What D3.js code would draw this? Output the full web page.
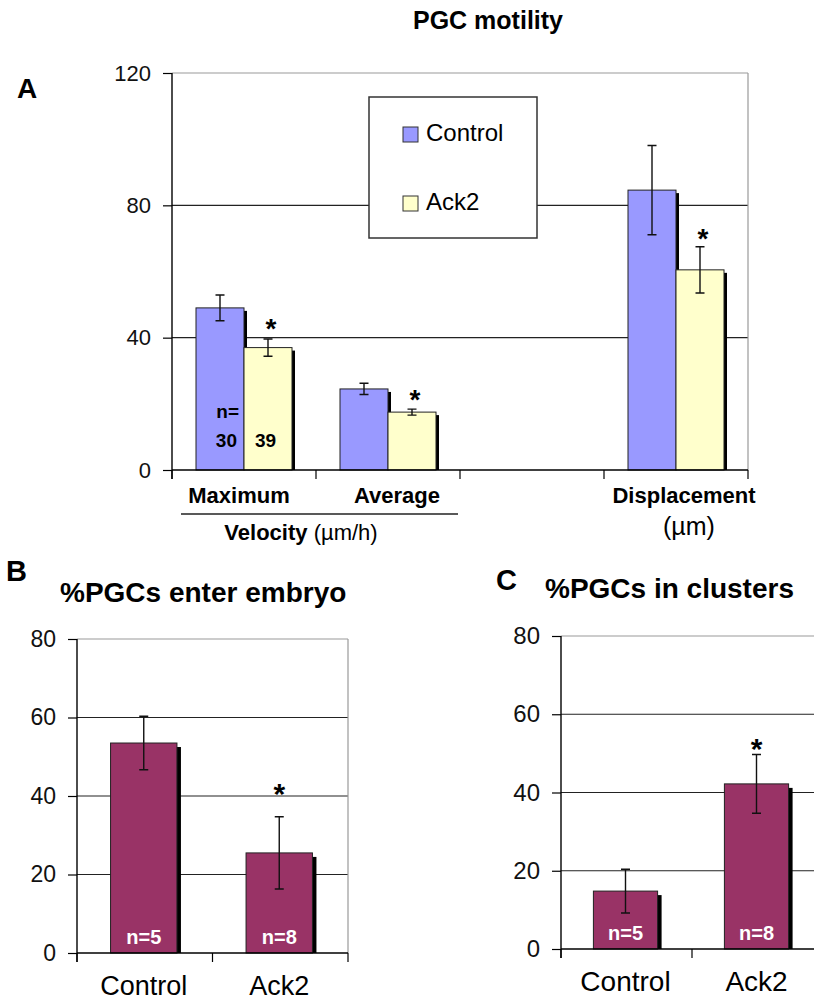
<!DOCTYPE html>
<html>
<head>
<meta charset="utf-8">
<script src="https://cdn.jsdelivr.net/npm/d3@7"></script>
<style>
  body { margin: 0; background: #fff; }
  svg { display: block; font-family: "Liberation Sans", Arial, sans-serif; }
</style>
</head>
<body>
<svg id="chart" width="814" height="1002"></svg>
<script>
// Panel A data
const aCategories = ["Maximum", "Average", "gap", "Displacement"];
const aSeries = ["Control", "Ack2"];
const aControl = [49, 24.5, null, 84.6];
const aControlErr = [3.9, 1.7, null, 13.5];
const aAck2 = [37, 17.5, null, 60.5];
const aAck2Err = [2.6, 0.9, null, 7];
const aStarLevel = [44.4, 22.7, null, 71.6];
const aTicks = [0, 40, 80, 120];

// Panel B data
const bCategories = ["Control", "Ack2"];
const bValues = [53.5, 25.5];
const bErr = [6.8, 9.2];
const bN = ["n=5", "n=8"];
const bStarLevel = [null, 42];

// Panel C data
const cCategories = ["Control", "Ack2"];
const cValues = [14.8, 42.2];
const cErr = [5.6, 7.5];
const cN = ["n=5", "n=8"];
const cStarLevel = [null, 52.5];

const bcTicks = [0, 20, 40, 60, 80];

const colors = { Control: "#9999ff", Ack2: "#ffffcc" };
const purple = "#993366";

const svg = d3.select("#chart");

function yAxis(g, y, x0, fontSize) {
    const ax = g.append("g")
        .attr("transform", `translate(${x0},0)`)
        .call(d3.axisLeft(y).tickValues(y.ticksUsed).tickSize(9).tickPadding(12));
    ax.select(".domain").remove();
    ax.selectAll(".tick line").attr("stroke", "#000").attr("stroke-width", 1.2);
    ax.selectAll(".tick text")
        .attr("font-size", fontSize)
        .attr("fill", "#111")
        .attr("font-family", "Liberation Sans, Arial, sans-serif");
}

function frame(g, x0, x1, y, withRight) {
    const [yBottom, yTop] = y.range();
    // grid lines (skip 0 and top)
    g.selectAll(".grid")
        .data(y.ticksUsed.filter(t => t !== 0 && t !== y.domain()[1]))
        .enter().append("line")
        .attr("x1", x0).attr("x2", x1)
        .attr("y1", d => y(d)).attr("y2", d => y(d))
        .attr("stroke", "#222").attr("stroke-width", 1.2);
    // top border
    g.append("line").attr("x1", x0).attr("x2", x1).attr("y1", yTop).attr("y2", yTop)
        .attr("stroke", "#999").attr("stroke-width", 1.2);
    if (withRight) {
        g.append("line").attr("x1", x1).attr("x2", x1).attr("y1", yTop).attr("y2", yBottom)
            .attr("stroke", "#999").attr("stroke-width", 1.2);
    }
}

function axes(g, x0, x1, y, boundaries) {
    const yBottom = y(0), yTop = y.range()[1];
    g.append("line").attr("x1", x0).attr("x2", x0).attr("y1", yTop).attr("y2", yBottom + 9)
        .attr("stroke", "#000").attr("stroke-width", 1.4);
    g.append("line").attr("x1", x0).attr("x2", x1).attr("y1", yBottom).attr("y2", yBottom)
        .attr("stroke", "#000").attr("stroke-width", 1.4);
    g.selectAll(".xtick").data(boundaries).enter().append("line")
        .attr("x1", d => d).attr("x2", d => d)
        .attr("y1", yBottom).attr("y2", yBottom + 9)
        .attr("stroke", "#000").attr("stroke-width", 1.2);
}

function bar(g, x, w, y, v, fill, sh) {
    g.append("rect")
        .attr("x", x + sh).attr("y", y(v) + sh)
        .attr("width", w).attr("height", y(0) - y(v) - sh)
        .attr("fill", "#000");
    g.append("rect")
        .attr("x", x).attr("y", y(v))
        .attr("width", w).attr("height", y(0) - y(v))
        .attr("fill", fill).attr("stroke", "#222").attr("stroke-width", 1);
}

function errBar(g, cx, y, v, e, cap) {
    const path = d3.path();
    path.moveTo(cx, y(v + e)); path.lineTo(cx, y(v - e));
    path.moveTo(cx - cap, y(v + e)); path.lineTo(cx + cap, y(v + e));
    path.moveTo(cx - cap, y(v - e)); path.lineTo(cx + cap, y(v - e));
    g.append("path").attr("d", path.toString()).attr("stroke", "#111").attr("stroke-width", 1.4).attr("fill", "none");
}

// star centred (roughly) on cy
function star(g, cx, cy, size) {
    g.append("text").attr("x", cx).attr("y", cy + size * 0.52)
        .attr("text-anchor", "middle").attr("font-size", size).attr("font-weight", "bold")
        .text("*");
}

// ---------- Panel A ----------
const gA = svg.append("g");
const yA = d3.scaleLinear().domain([0, 120]).range([470, 73]);
yA.ticksUsed = aTicks;
const xA = d3.scaleBand().domain(aCategories).range([172, 748]).padding(0);
const xSub = d3.scaleBand().domain(aSeries).range([0, xA.bandwidth()]).paddingInner(0).paddingOuter(0.5);

frame(gA, 172, 748, yA, true);

aCategories.forEach((c, i) => {
    if (aControl[i] == null) return;
    const xc = xA(c) + xSub("Control"), xk = xA(c) + xSub("Ack2"), w = xSub.bandwidth();
    bar(gA, xc, w, yA, aControl[i], colors.Control, 3);
    bar(gA, xk, w, yA, aAck2[i], colors.Ack2, 3);
    errBar(gA, xc + w / 2, yA, aControl[i], aControlErr[i], 4.5);
    errBar(gA, xk + w / 2, yA, aAck2[i], aAck2Err[i], 4.5);
    star(gA, xk + w / 2 + 3, yA(aStarLevel[i]), 28);
});

axes(gA, 172, 748, yA, aCategories.map(c => xA(c)).concat([748]));
yAxis(gA, yA, 172, 22);

// n labels in the first group
{
    const xc = xA("Maximum") + xSub("Control"), xk = xA("Maximum") + xSub("Ack2"), w = xSub.bandwidth();
    const t = gA.append("g").attr("font-size", 19).attr("font-weight", "bold").attr("fill", "#000");
    t.append("text").attr("x", xc + w - 5).attr("y", yA(15.6)).attr("text-anchor", "end").text("n=");
    t.append("text").attr("x", xc + w - 7).attr("y", yA(7)).attr("text-anchor", "end").text("30");
    t.append("text").attr("x", xk + 11).attr("y", yA(7)).attr("text-anchor", "start").text("39");
}

// legend
{
    const lg = gA.append("g");
    lg.append("rect").attr("x", 369).attr("y", 97).attr("width", 168).attr("height", 141)
        .attr("fill", "#fff").attr("stroke", "#333").attr("stroke-width", 1.5);
    aSeries.forEach((s, i) => {
        const yy = 127 + i * 69;
        lg.append("rect").attr("x", 403).attr("y", yy).attr("width", 15).attr("height", 15)
            .attr("fill", colors[s]).attr("stroke", "#333").attr("stroke-width", 1);
        lg.append("text").attr("x", 426).attr("y", yy + 14).attr("font-size", 24).text(s);
    });
}

// category labels
gA.append("text").attr("x", 488).attr("y", 29).attr("text-anchor", "middle")
    .attr("font-size", 25).attr("font-weight", "bold").text("PGC motility");
gA.append("text").attr("x", 17).attr("y", 98).attr("font-size", 28).attr("font-weight", "bold").text("A");
const catLabels = gA.append("g").attr("font-size", 22).attr("font-weight", "bold").attr("text-anchor", "middle");
catLabels.append("text").attr("x", xA("Maximum") + xA.bandwidth() / 2 - 5).attr("y", 503).text("Maximum");
catLabels.append("text").attr("x", xA("Average") + xA.bandwidth() / 2 + 9).attr("y", 503).text("Average");
catLabels.append("text").attr("x", xA("Displacement") + xA.bandwidth() / 2 + 8).attr("y", 503).text("Displacement");
gA.append("line").attr("x1", 181).attr("x2", 458).attr("y1", 514).attr("y2", 514)
    .attr("stroke", "#222").attr("stroke-width", 1.4);
const vel = gA.append("text").attr("x", 301).attr("y", 540).attr("text-anchor", "middle").attr("font-size", 22);
vel.append("tspan").attr("font-weight", "bold").text("Velocity");
vel.append("tspan").text(" (\u00b5m/h)");
gA.append("text").attr("x", 689).attr("y", 535).attr("text-anchor", "middle").attr("font-size", 25).text("(\u00b5m)");

// ---------- Panels B and C ----------
function simplePanel(opts) {
    const g = svg.append("g");
    const y = d3.scaleLinear().domain([0, 80]).range([opts.yBottom, opts.yTop]);
    y.ticksUsed = bcTicks;
    const x = d3.scaleBand().domain(opts.categories).range([opts.x0, opts.x1]).padding(0);
    const w = x.bandwidth() * 0.49;
    frame(g, opts.x0, opts.x1, y, opts.right);
    opts.categories.forEach((c, i) => {
        const cx = x(c) + x.bandwidth() / 2 - 1;
        bar(g, cx - w / 2, w, y, opts.values[i], purple, 4);
        errBar(g, cx, y, opts.values[i], opts.err[i], 4.5);
        if (opts.stars[i] != null) star(g, cx, y(opts.stars[i]), 30);
        g.append("text").attr("x", cx).attr("y", opts.yBottom - 9)
            .attr("text-anchor", "middle").attr("font-size", 20).attr("font-weight", "bold")
            .attr("fill", "#fff").text(opts.n[i]);
        g.append("text").attr("x", cx).attr("y", opts.yBottom + 42)
            .attr("text-anchor", "middle").attr("font-size", opts.catSize).text(c);
    });
    axes(g, opts.x0, opts.x1, y, opts.categories.map(c => x(c)).concat([opts.x1]));
    yAxis(g, y, opts.x0, opts.tickSize);
    g.append("text").attr("x", opts.titleX).attr("y", opts.titleY)
        .attr("font-size", 28).attr("font-weight", "bold").text(opts.title);
    g.append("text").attr("x", opts.letterX).attr("y", opts.letterY)
        .attr("font-size", 29).attr("font-weight", "bold").text(opts.letter);
}

simplePanel({
    categories: bCategories, values: bValues, err: bErr, n: bN, stars: bStarLevel,
    x0: 77, x1: 348, yTop: 639, yBottom: 953, right: true,
    title: "%PGCs enter embryo", titleX: 60, titleY: 602,
    letter: "B", letterX: 6, letterY: 581, catSize: 27, tickSize: 23
});

simplePanel({
    categories: cCategories, values: cValues, err: cErr, n: cN, stars: cStarLevel,
    x0: 561, x1: 823, yTop: 636, yBottom: 949, right: false,
    title: "%PGCs in clusters", titleX: 545, titleY: 598,
    letter: "C", letterX: 496, letterY: 590, catSize: 28, tickSize: 24
});
</script>
</body>
</html>
